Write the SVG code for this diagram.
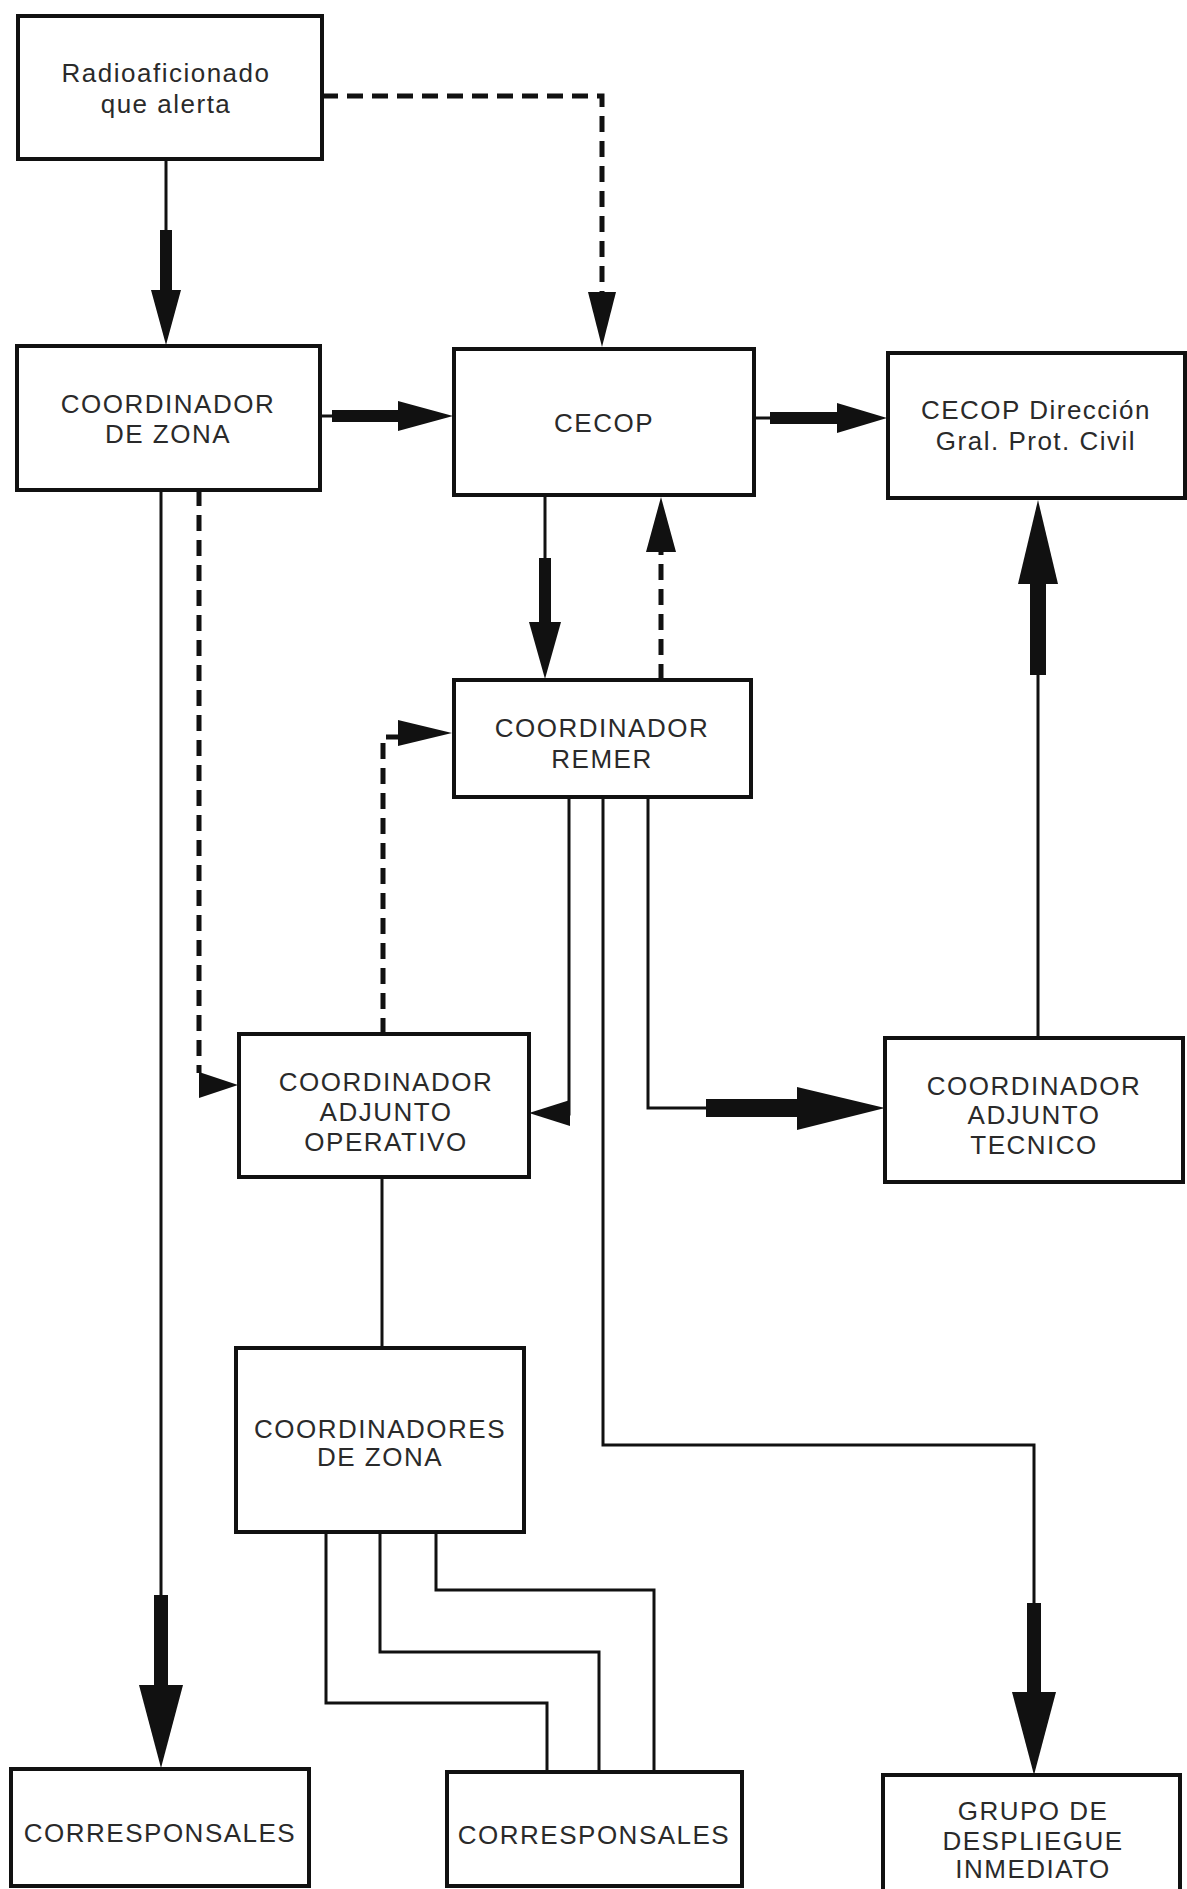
<svg xmlns="http://www.w3.org/2000/svg" width="1187" height="1889" viewBox="0 0 1187 1889">
<style>
.box{fill:#fff;stroke:#111;stroke-width:4}
.t{font-family:"Liberation Sans",Arial,sans-serif;font-size:26px;letter-spacing:1.5px;fill:#2a2a2a;text-anchor:middle}
.ln{fill:none;stroke:#111;stroke-width:3}
.dash{fill:none;stroke:#111;stroke-width:5;stroke-dasharray:16 9}
.hd{fill:#111}
</style>
<rect width="1187" height="1889" fill="#fff"/>
<g id="connectors">
<!-- Radio -> Coordinador de zona -->
<line class="ln" x1="166" y1="160" x2="166" y2="232"/>
<rect class="hd" x="160" y="230" width="12" height="62"/>
<polygon class="hd" points="151,290 181,290 166,345"/>
<!-- Radio -> CECOP (dashed) -->
<path class="dash" d="M322,96 H602 V292"/>
<polygon class="hd" points="588,292 616,292 602,347"/>
<!-- Coordinador de zona -> CECOP -->
<line class="ln" x1="320" y1="416" x2="334" y2="416"/>
<rect class="hd" x="332" y="410" width="68" height="12"/>
<polygon class="hd" points="398,401 398,431 453,416"/>
<!-- CECOP -> CECOP Direccion -->
<line class="ln" x1="754" y1="418" x2="772" y2="418"/>
<rect class="hd" x="770" y="412" width="70" height="12"/>
<polygon class="hd" points="837,403 837,433 887,418"/>
<!-- CECOP -> REMER -->
<line class="ln" x1="545" y1="495" x2="545" y2="562"/>
<rect class="hd" x="539" y="558" width="12" height="66"/>
<polygon class="hd" points="529,622 561,622 545,679"/>
<!-- REMER -> CECOP (dashed) -->
<path class="dash" d="M661,680 V548"/>
<polygon class="hd" points="646,552 676,552 661,497"/>
<!-- Adjunto tecnico -> CECOP Direccion -->
<line class="ln" x1="1038" y1="1038" x2="1038" y2="671"/>
<rect class="hd" x="1030" y="580" width="16" height="95"/>
<polygon class="hd" points="1018,584 1058,584 1038,500"/>
<!-- Coordinador de zona -> Adjunto operativo (dashed) -->
<path class="dash" d="M199,490 V1073"/>
<polygon class="hd" points="199,1072 199,1098 238,1085"/>
<!-- Adjunto operativo -> REMER (dashed) -->
<path class="dash" d="M383,1034 V737 H400"/>
<polygon class="hd" points="398,720 398,746 452,733"/>
<!-- REMER -> Adjunto operativo -->
<path class="ln" d="M569,797 V1114 H545"/>
<polygon class="hd" points="570,1100 570,1126 529,1113"/>
<!-- REMER -> Adjunto tecnico -->
<path class="ln" d="M648,797 V1108 H708"/>
<rect class="hd" x="706" y="1099" width="93" height="18"/>
<polygon class="hd" points="797,1087 797,1130 885,1108"/>
<!-- REMER -> Grupo de despliegue -->
<path class="ln" d="M603,797 V1445 H1034 V1605"/>
<rect class="hd" x="1027" y="1603" width="14" height="92"/>
<polygon class="hd" points="1012,1692 1056,1692 1034,1775"/>
<!-- Coordinador de zona -> Corresponsales -->
<path class="ln" d="M161,490 V1597"/>
<rect class="hd" x="154" y="1595" width="14" height="92"/>
<polygon class="hd" points="139,1685 183,1685 161,1768"/>
<!-- Adjunto operativo - Coordinadores de zona -->
<line class="ln" x1="382" y1="1177" x2="382" y2="1348"/>
<!-- Coordinadores de zona -> Corresponsales -->
<path class="ln" d="M326,1532 V1703 H547 V1772"/>
<path class="ln" d="M380,1532 V1652 H599 V1772"/>
<path class="ln" d="M436,1532 V1590 H654 V1772"/>
</g>
<g id="radioaficionado">
<rect class="box" x="18" y="16" width="304" height="143"/>
<text class="t" x="166" y="82">Radioaficionado</text>
<text class="t" x="166" y="113">que alerta</text>
</g>
<g id="coordinador-zona">
<rect class="box" x="17" y="346" width="303" height="144"/>
<text class="t" x="168" y="413">COORDINADOR</text>
<text class="t" x="168" y="443">DE ZONA</text>
</g>
<g id="cecop">
<rect class="box" x="454" y="349" width="300" height="146"/>
<text class="t" x="604" y="432">CECOP</text>
</g>
<g id="cecop-direccion">
<rect class="box" x="888" y="353" width="297" height="145"/>
<text class="t" x="1036" y="419">CECOP Dirección</text>
<text class="t" x="1036" y="450">Gral. Prot. Civil</text>
</g>
<g id="coordinador-remer">
<rect class="box" x="454" y="680" width="297" height="117"/>
<text class="t" x="602" y="737">COORDINADOR</text>
<text class="t" x="602" y="768">REMER</text>
</g>
<g id="adjunto-operativo">
<rect class="box" x="239" y="1034" width="290" height="143"/>
<text class="t" x="386" y="1091">COORDINADOR</text>
<text class="t" x="386" y="1121">ADJUNTO</text>
<text class="t" x="386" y="1151">OPERATIVO</text>
</g>
<g id="adjunto-tecnico">
<rect class="box" x="885" y="1038" width="298" height="144"/>
<text class="t" x="1034" y="1095">COORDINADOR</text>
<text class="t" x="1034" y="1124">ADJUNTO</text>
<text class="t" x="1034" y="1154">TECNICO</text>
</g>
<g id="coordinadores-zona">
<rect class="box" x="236" y="1348" width="288" height="184"/>
<text class="t" x="380" y="1438">COORDINADORES</text>
<text class="t" x="380" y="1466">DE ZONA</text>
</g>
<g id="corresponsales-1">
<rect class="box" x="11" y="1769" width="298" height="117"/>
<text class="t" x="160" y="1842">CORRESPONSALES</text>
</g>
<g id="corresponsales-2">
<rect class="box" x="447" y="1772" width="295" height="114"/>
<text class="t" x="594" y="1844">CORRESPONSALES</text>
</g>
<g id="grupo-despliegue">
<rect class="box" x="883" y="1775" width="297" height="130"/>
<text class="t" x="1033" y="1820">GRUPO DE</text>
<text class="t" x="1033" y="1850">DESPLIEGUE</text>
<text class="t" x="1033" y="1878">INMEDIATO</text>
</g>
</svg>
